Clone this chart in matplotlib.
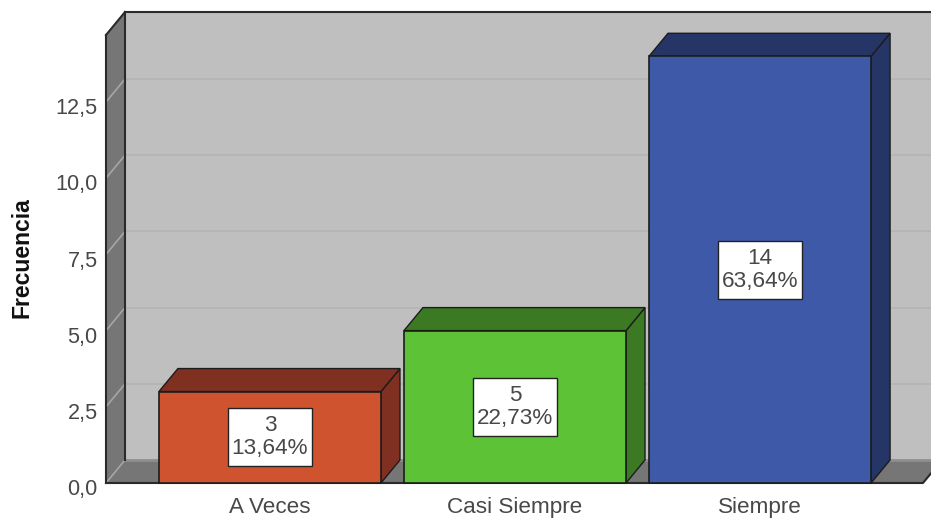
import matplotlib
matplotlib.use("Agg")
import matplotlib.pyplot as plt
from matplotlib.patches import Polygon, Rectangle
from matplotlib.transforms import ScaledTranslation

plt.rcParams["font.family"] = ["Liberation Sans", "DejaVu Sans"]

categories = ["A Veces", "Casi Siempre", "Siempre"]
counts = [3, 5, 14]
percents = ["13,64%", "22,73%", "63,64%"]
y_ticks = [0, 2.5, 5, 7.5, 10, 12.5]
y_tick_labels = ["0,0", "2,5", "5,0", "7,5", "10,0", "12,5"]

front_colors = ["#d0532f", "#5dc235", "#3e59a7"]
side_colors = ["#7f3020", "#3b7a23", "#243566"]

W, H = 931, 518
fig = plt.figure(figsize=(W / 100, H / 100), dpi=100, facecolor="white")
# axes sit on the front plane of the 3D box
ax = fig.add_axes([106 / W, 1 - 483 / H, (923 - 106) / W, (483 - 35) / H])
ax.set_xlim(-0.669, 2.665)
ax.set_ylim(0, 448 / 30.48)
ax.patch.set_visible(False)
for s in ax.spines.values():
    s.set_visible(False)

x0, x1 = ax.get_xlim()
y0, y1 = ax.get_ylim()
# depth of the box in data units
dx = 19 / 245
dy = 23 / 30.48
bar_w = 222 / 245
edge = "#1c1c1c"
text_color = "#484848"
font_size = 16.2


def poly(pts, color, ec="none", lw=0, z=1):
    ax.add_patch(Polygon(pts, closed=True, facecolor=color, edgecolor=ec, linewidth=lw,
                         zorder=z, clip_on=False))


# walls and floor
poly([(x0 + dx, y0 + dy), (x1 + dx, y0 + dy), (x1 + dx, y1 + dy), (x0 + dx, y1 + dy)], "#bfbfbf")
poly([(x0, y0), (x1, y0), (x1 + dx, y0 + dy), (x0 + dx, y0 + dy)], "#767676", z=2)
poly([(x0, y0), (x0 + dx, y0 + dy), (x0 + dx, y1 + dy), (x0, y1)], "#767676", z=2)

# gridlines on back wall and left wall
for t in y_ticks[1:]:
    ax.plot([x0 + dx, x1 + dx], [t + dy, t + dy], color="#b5b5b5", lw=1.3, zorder=1.5, clip_on=False)
    ax.plot([x0, x0 + dx], [t, t + dy], color="#a6a6a6", lw=1.2, zorder=3, clip_on=False)
ax.plot([x0, x0 + dx], [y0, y0 + dy], color="#a6a6a6", lw=1.2, zorder=3, clip_on=False)
ax.plot([x0 + dx, x1 + dx], [y0 + dy, y0 + dy], color="#8e8e8e", lw=2, zorder=2.5, clip_on=False)

# box outline
ax.plot([x0 + dx, x0 + dx], [y0 + dy, y1 + dy], color="#2a2a2a", lw=1.5, zorder=3, clip_on=False)
ax.plot([x0 + dx, x1 + dx], [y1 + dy, y1 + dy], color="#2a2a2a", lw=1.5, zorder=3, clip_on=False)
ax.plot([x0, x0 + dx], [y1, y1 + dy], color="#2a2a2a", lw=1.5, zorder=3, clip_on=False)
ax.plot([x0, x0], [y0, y1], color="#2a2a2a", lw=1.5, zorder=3, clip_on=False)
ax.plot([x0, x1, x1 + dx], [y0, y0, y0 + dy], color="#2a2a2a", lw=1.5, zorder=3, clip_on=False)

# bars
for i, (v, pct) in enumerate(zip(counts, percents)):
    l, r = i - bar_w / 2, i + bar_w / 2
    z = 4 + i
    poly([(r, 0), (r + dx, dy), (r + dx, v + dy), (r, v)], side_colors[i], edge, 1, z)
    poly([(l, v), (r, v), (r + dx, v + dy), (l + dx, v + dy)], side_colors[i], edge, 1, z)
    poly([(l, 0), (r, 0), (r, v), (l, v)], front_colors[i], edge, 1.2, z + 0.1)
    # label box is 84 x 58 px
    box_w, box_h = 84 / 245, 58 / 30.48
    ax.add_patch(Rectangle((i - box_w / 2, v / 2 - box_h / 2), box_w, box_h, facecolor="white",
                           edgecolor="#222222", linewidth=1, zorder=z + 0.2))
    ax.text(i, v / 2, f"{v}\n{pct}", ha="center", va="center", fontsize=font_size, color=text_color,
            linespacing=1.12, zorder=z + 0.3)

ax.set_xticks(range(len(categories)))
ax.set_xticklabels(categories, fontsize=font_size, color=text_color)
ax.set_yticks(y_ticks)
ax.set_yticklabels(y_tick_labels, fontsize=15.6, color=text_color)
ax.tick_params(axis="both", length=0)
ax.tick_params(axis="x", pad=10)
ax.tick_params(axis="y", pad=6)
down = ScaledTranslation(0, -3 / 72, fig.dpi_scale_trans)
for lab in ax.get_yticklabels():
    lab.set_transform(lab.get_transform() + down)

fig.text(22 / W, 1 - 258 / H, "Frecuencia", rotation=90, ha="center", va="center",
         fontsize=16.6, fontweight="bold", color="#111111")

fig.savefig("out.png", dpi=100)
